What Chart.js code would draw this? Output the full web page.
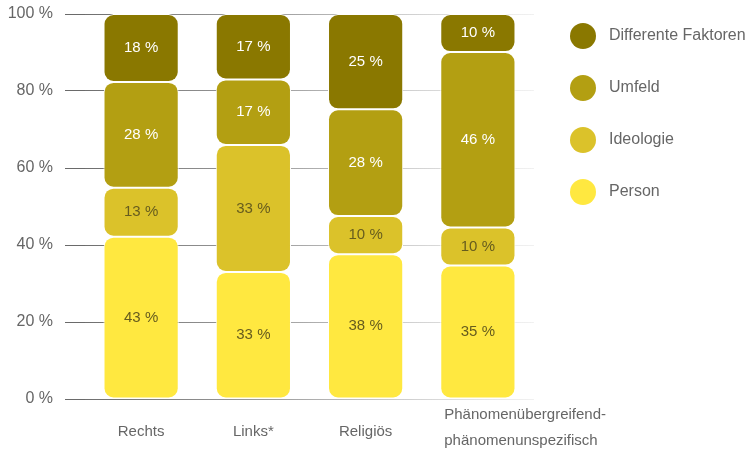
<!DOCTYPE html>
<html>
<head>
<meta charset="utf-8">
<script src="https://cdn.jsdelivr.net/npm/chart.js@4/dist/chart.umd.min.js"></script>
<style>
  html, body { margin: 0; padding: 0; background: #fff; }
  #wrap { width: 754px; height: 455px; position: relative; }
</style>
</head>
<body>
<div id="wrap"><canvas id="c"></canvas></div>
<script>
const categories = ['Rechts', 'Links*', 'Religiös', ['Phänomenübergreifend-', 'phänomenunspezifisch']];
const person = [43, 33, 38, 35];
const ideologie = [13, 33, 10, 10];
const umfeld = [28, 17, 28, 46];
const differente = [18, 17, 25, 10];
const seriesNames = ['Person', 'Ideologie', 'Umfeld', 'Differente Faktoren'];
const yTicks = [0, 20, 40, 60, 80, 100];

const FONT = '"Liberation Sans", "DejaVu Sans", sans-serif';
const colors = ['#ffe840', '#dbc22a', '#b39f12', '#8a7800'];
const labelColors = ['#665c1e', '#665c1e', '#ffffff', '#ffffff'];
const raw = [person, ideologie, umfeld, differente];
const sums = categories.map((_, i) => raw.reduce((s, a) => s + a[i], 0));

const datasets = raw.map((arr, k) => ({
  label: seriesNames[k],
  rawValues: arr,
  data: arr.map((v, i) => v / sums[i] * 100),
  backgroundColor: colors[k],
  borderColor: '#ffffff',
  borderWidth: 1,
  borderRadius: { topLeft: 10, topRight: 10, bottomLeft: 10, bottomRight: 10 },
  borderSkipped: false,
  categoryPercentage: 1,
  barPercentage: 0.67
}));

const labelPlugin = {
  id: 'segLabels',
  afterDatasetsDraw(chart) {
    const ctx = chart.ctx;
    ctx.save();
    ctx.font = '15px ' + FONT;
    ctx.textAlign = 'center';
    ctx.textBaseline = 'middle';
    chart.data.datasets.forEach((ds, k) => {
      const meta = chart.getDatasetMeta(k);
      meta.data.forEach((el, i) => {
        const p = el.getProps(['x', 'y', 'base'], true);
        ctx.fillStyle = labelColors[k];
        ctx.fillText(ds.rawValues[i] + ' %', p.x, (p.y + p.base) / 2);
      });
    });
    ctx.restore();
  }
};

const xLabelPlugin = {
  id: 'xLabels',
  afterDraw(chart) {
    const ctx = chart.ctx;
    const xs = chart.scales.x;
    const meta = chart.getDatasetMeta(0);
    ctx.save();
    ctx.font = '15px ' + FONT;
    ctx.fillStyle = '#666666';
    ctx.textBaseline = 'middle';
    categories.forEach((lab, i) => {
      const x = xs.getPixelForValue(i);
      if (Array.isArray(lab)) {
        const el = meta.data[i];
        const left = el.x - el.width / 2 + 4;
        ctx.textAlign = 'left';
        lab.forEach((line, j) => ctx.fillText(line, left, 415 + j * 26));
      } else {
        ctx.textAlign = 'center';
        ctx.fillText(lab, x, 432);
      }
    });
    ctx.restore();
  }
};

const legendPlugin = {
  id: 'customLegend',
  afterDraw(chart) {
    const ctx = chart.ctx;
    ctx.save();
    ctx.font = '16px ' + FONT;
    ctx.textBaseline = 'middle';
    ctx.textAlign = 'left';
    const order = [3, 2, 1, 0];
    order.forEach((k, j) => {
      const y = 36 + j * 52;
      ctx.beginPath();
      ctx.arc(583, y, 13, 0, Math.PI * 2);
      ctx.fillStyle = colors[k];
      ctx.fill();
      ctx.fillStyle = '#666666';
      ctx.fillText(seriesNames[k], 609, y);
    });
    ctx.restore();
  }
};

let grad = null;
function gridColor(c) {
  const chart = c.chart;
  if (!grad) {
    grad = chart.ctx.createLinearGradient(65, 0, 545, 0);
    grad.addColorStop(0, '#6a6a6a');
    grad.addColorStop(0.45, '#a0a0a0');
    grad.addColorStop(1, 'rgba(235,235,235,0.6)');
  }
  return grad;
}

new Chart(document.getElementById('c'), {
  type: 'bar',
  data: { labels: categories, datasets },
  plugins: [labelPlugin, xLabelPlugin, legendPlugin],
  options: {
    responsive: true,
    maintainAspectRatio: false,
    animation: false,
    layout: { padding: { left: 0, top: 14, right: 220, bottom: 0 } },
    plugins: { legend: { display: false }, tooltip: { enabled: false } },
    scales: {
      x: {
        stacked: true,
        grid: { display: false, drawTicks: false },
        border: { display: false },
        ticks: { display: false },
        afterFit(s) { s.height = 56; s.paddingLeft = 0; s.paddingRight = 0; }
      },
      y: {
        stacked: true,
        min: 0,
        max: 100,
        afterBuildTicks(s) { s.ticks = yTicks.map(v => ({ value: v })); },
        grid: { color: gridColor, lineWidth: 1, drawTicks: true, tickLength: 20, tickColor: '#6a6a6a' },
        border: { display: false },
        ticks: {
          color: '#666666',
          font: { family: FONT, size: 16 },
          padding: 12,
          callback: v => v + ' %'
        },
        afterFit(s) { s.width = 85; s.paddingTop = 0; s.paddingBottom = 0; }
      }
    }
  }
});
</script>
</body>
</html>
